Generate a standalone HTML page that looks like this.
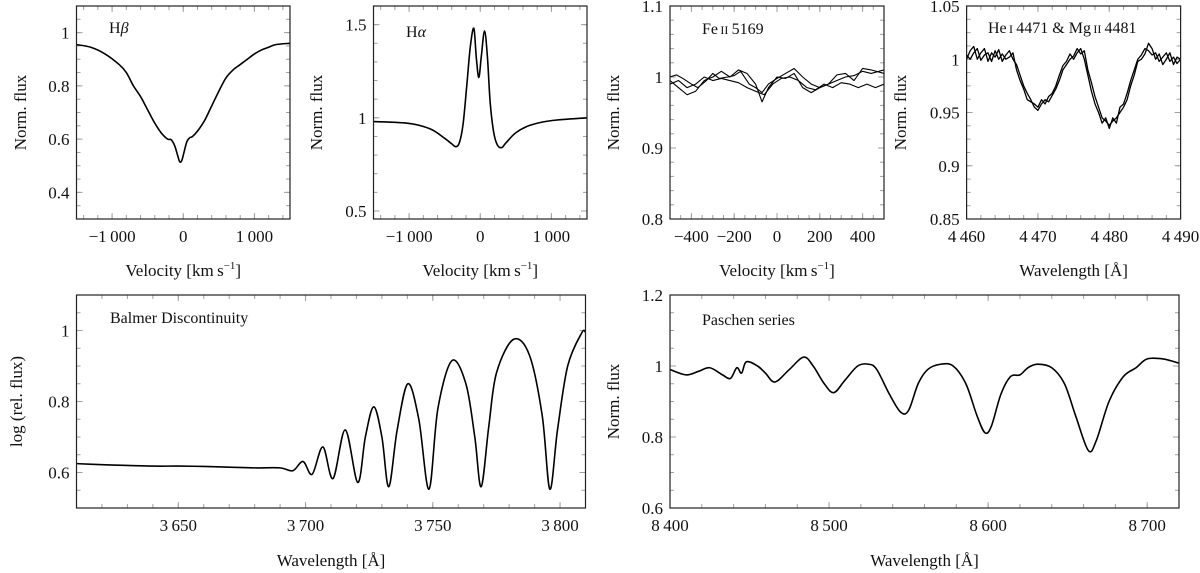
<!DOCTYPE html>
<html><head><meta charset="utf-8"><style>
html,body{margin:0;padding:0;background:#fff}
svg{display:block;font-family:"Liberation Serif",serif}
</style></head><body>
<svg id="fig" width="1200" height="573" viewBox="0 0 1200 573" xmlns="http://www.w3.org/2000/svg"></svg>
<script>
// ---- data ----
const hbetaVel=[-1500,-1300,-1100,-900,-800,-700,-600,-500,-400,-300,-220,-170,-120,-80,-50,-20,10,50,90,130,200,300,400,500,600,700,800,900,1000,1100,1200,1300,1500];
const hbetaFlux=[0.955,0.945,0.92,0.88,0.85,0.80,0.76,0.71,0.66,0.62,0.60,0.598,0.575,0.54,0.515,0.52,0.55,0.59,0.605,0.61,0.63,0.67,0.725,0.78,0.83,0.86,0.88,0.90,0.92,0.935,0.945,0.955,0.96];
const halphaVel=[-1500,-1000,-700,-500,-400,-340,-290,-240,-190,-140,-90,-55,-20,15,60,100,140,190,240,300,360,500,700,1000,1500];
const halphaFlux=[0.98,0.97,0.94,0.89,0.86,0.845,0.87,0.97,1.17,1.38,1.48,1.32,1.217,1.33,1.466,1.33,1.08,0.92,0.855,0.84,0.865,0.92,0.96,0.985,1.0];
const feVel1=[-500,-470,-440,-400,-370,-330,-300,-270,-230,-200,-170,-130,-100,-70,-40,0,40,80,120,160,200,240,280,320,360,400,440,500];
const feFlux1=[1.0,1.003,0.998,0.99,0.985,0.995,1.005,0.998,1.0,1.002,1.008,0.99,0.985,0.978,0.99,0.998,1.005,1.012,1.0,0.99,0.985,0.99,0.995,1.0,1.002,1.008,1.005,1.01];
const feVel2=[-500,-460,-420,-380,-340,-300,-260,-220,-180,-140,-100,-70,-40,0,40,80,120,160,200,240,280,320,360,400,440,500];
const feFlux2=[0.995,0.985,0.975,0.98,0.995,1.0,1.008,1.0,1.01,1.005,0.99,0.965,0.985,1.0,0.998,1.005,0.985,0.978,0.985,0.99,1.003,1.005,0.995,1.012,1.01,1.005];
const feVel3=[-500,-460,-420,-380,-340,-300,-260,-220,-180,-140,-100,-60,-20,20,60,100,140,180,220,260,300,340,380,420,460,500];
const feFlux3=[0.99,0.995,0.985,0.99,1.0,0.995,0.998,0.995,0.992,0.985,0.98,0.975,0.99,0.998,1.0,0.995,0.985,0.982,0.99,0.985,0.992,0.99,0.985,0.99,0.985,0.99];
const heWave=[4460,4460.5,4461,4461.5,4462,4462.5,4463,4463.5,4464,4464.5,4465,4465.5,4466,4466.5,4467,4467.5,4468,4468.5,4469,4469.5,4470,4470.5,4471,4471.5,4472,4472.5,4473,4473.5,4474,4474.5,4475,4475.5,4476,4476.5,4477,4477.5,4478,4478.5,4479,4479.5,4480,4480.5,4481,4481.5,4482,4482.5,4483,4483.5,4484,4484.5,4485,4485.5,4486,4486.5,4487,4487.5,4488,4488.5,4489,4489.5,4490];
const heFlux1=[1.0,1.008,1.012,1.0,1.006,1.01,0.998,1.006,1.002,1.009,0.998,1.004,1.008,1.0,0.995,0.985,0.975,0.968,0.962,0.955,0.952,0.958,0.962,0.96,0.966,0.972,0.98,0.99,0.995,1.0,1.003,1.01,1.005,1.008,0.99,0.978,0.965,0.955,0.945,0.942,0.938,0.942,0.945,0.95,0.955,0.962,0.975,0.985,0.998,1.0,1.005,1.015,1.01,1.0,1.005,0.995,1.0,1.006,0.995,1.002,1.0];
const heFlux2=[1.004,1.0,1.006,1.01,0.999,1.004,1.006,0.998,1.008,1.0,1.005,1.0,1.002,1.006,0.99,0.98,0.972,0.962,0.96,0.958,0.955,0.962,0.958,0.965,0.968,0.975,0.985,0.994,0.998,1.005,1.0,1.006,1.01,1.0,0.985,0.97,0.958,0.95,0.94,0.945,0.935,0.945,0.94,0.955,0.958,0.968,0.98,0.99,1.0,1.004,1.01,1.008,1.004,1.006,0.998,1.002,1.006,0.998,1.002,0.996,1.0];
const balmerWave=[3610,3620,3630,3640,3650,3660,3670,3680,3690,3695,3699,3702.6,3706.8,3710.8,3715.6,3720.5,3723.5,3726.8,3730,3732.7,3736,3740.2,3744.5,3748.5,3752,3757.5,3763,3766.5,3769,3772,3775,3781.7,3788,3793,3796,3799,3803,3808.5,3810];
const balmerFlux=[0.625,0.622,0.62,0.618,0.618,0.617,0.615,0.613,0.613,0.605,0.631,0.595,0.672,0.583,0.72,0.572,0.70,0.785,0.70,0.56,0.72,0.85,0.75,0.553,0.78,0.915,0.85,0.70,0.56,0.73,0.88,0.975,0.93,0.76,0.553,0.72,0.90,0.993,0.995];
const paschenWave=[8400,8410,8418,8425,8433,8438,8442,8445,8448,8455,8460,8466,8475,8484,8490,8497,8503,8510,8518,8525,8530,8538,8545,8550,8556,8562,8570,8578,8586,8593,8598,8602,8608,8614,8620,8625,8631,8640,8648,8655,8663,8668,8676,8685,8693,8700,8710,8720];
const paschenFlux=[0.99,0.975,0.985,0.995,0.975,0.965,0.995,0.98,1.012,1.0,0.98,0.955,0.99,1.025,1.0,0.95,0.925,0.96,1.0,1.005,0.99,0.92,0.87,0.875,0.95,0.99,1.005,1.0,0.95,0.86,0.812,0.83,0.92,0.97,0.975,0.995,1.005,0.995,0.95,0.86,0.762,0.79,0.9,0.97,0.995,1.02,1.02,1.008];
// tick labels
const hbXTicks=[-1000,0,1000], hbYTicks=[0.4,0.6,0.8,1];
const haXTicks=[-1000,0,1000], haYTicks=[0.5,1,1.5];
const feXTicks=[-400,-200,0,200,400], feYTicks=[0.8,0.9,1,1.1];
const heXTicks=[4460,4470,4480,4490], heYTicks=[0.85,0.9,0.95,1,1.05];
const baXTicks=[3650,3700,3750,3800], baYTicks=[0.6,0.8,1];
const paXTicks=[8400,8500,8600,8700], paYTicks=[0.6,0.8,1,1.2];

const NS="http://www.w3.org/2000/svg";
const svg=document.getElementById('fig');
function mk(tag,attrs,parent){const e=document.createElementNS(NS,tag);for(const k in attrs)e.setAttribute(k,attrs[k]);(parent||svg).appendChild(e);return e;}
function fmt(v){let s=Math.abs(v)>=1000?String(Math.abs(v)).replace(/(\d)(\d{3})$/,'$1\u2009$2'):String(Math.abs(v));return (v<0?'\u2212':'')+s;}

function panel(o){
  const g=mk('g',{});
  
  
  const sx=v=>o.L+(v-o.x0)/(o.x1-o.x0)*(o.R-o.L);
  const sy=v=>o.B-(v-o.y0)/(o.y1-o.y0)*(o.B-o.T);
  // minor ticks
  const tk=mk('g',{stroke:'#a0a0a0','stroke-width':1},g);
  
  
  for(let v=o.xm0;v<=o.x1+1e-9;v+=o.xms){const x=sx(v);if(x<o.L+1||x>o.R-1)continue;
    mk('line',{x1:x,x2:x,y1:o.B,y2:o.B-4},tk);mk('line',{x1:x,x2:x,y1:o.T,y2:o.T+4},tk);}
  for(let v=o.ym0;v<=o.y1+1e-9;v+=o.yms){const y=sy(v);if(y<o.T+1||y>o.B-1)continue;
    mk('line',{x1:o.L,x2:o.L+4,y1:y,y2:y},tk);mk('line',{x1:o.R,x2:o.R-4,y1:y,y2:y},tk);}
  o.xt.forEach(v=>{const x=sx(v);mk('line',{x1:x,x2:x,y1:o.B,y2:o.B-6},tk);mk('line',{x1:x,x2:x,y1:o.T,y2:o.T+6},tk);
    const t=mk('text',{x:x,y:o.B+23,'text-anchor':'middle','font-size':17,fill:'#111'},g);t.textContent=fmt(v);
    });
  o.yt.forEach(v=>{const y=sy(v);mk('line',{x1:o.L,x2:o.L+6,y1:y,y2:y},tk);mk('line',{x1:o.R,x2:o.R-6,y1:y,y2:y},tk);
    const t=mk('text',{x:o.L-7,y:y+6,'text-anchor':'end','font-size':17,fill:'#111'},g);t.textContent=String(v);
    });
  // clip
  const cid='c'+o.name;const cp=mk('clipPath',{id:cid},g);mk('rect',{x:o.L,y:o.T,width:o.R-o.L,height:o.B-o.T},cp);
  o.series.forEach((s,i)=>{
    const P=s.x.map((v,j)=>[sx(v),sy(s.y[j])]);
    let d='M'+P[0][0].toFixed(2)+','+P[0][1].toFixed(2);
    if(o.smooth){for(let j=0;j<P.length-1;j++){const p0=P[Math.max(0,j-1)],p1=P[j],p2=P[j+1],p3=P[Math.min(P.length-1,j+2)];
      const c1=[p1[0]+(p2[0]-p0[0])/6,p1[1]+(p2[1]-p0[1])/6],c2=[p2[0]-(p3[0]-p1[0])/6,p2[1]-(p3[1]-p1[1])/6];
      d+=' C'+c1[0].toFixed(2)+','+c1[1].toFixed(2)+' '+c2[0].toFixed(2)+','+c2[1].toFixed(2)+' '+p2[0].toFixed(2)+','+p2[1].toFixed(2);}}
    else P.slice(1).forEach(p=>d+=' L'+p[0].toFixed(2)+','+p[1].toFixed(2));
    const pa=mk('path',{d:d,fill:'none',stroke:'#000','stroke-width':o.sw||1.6,'stroke-linejoin':'round','clip-path':'url(#'+cid+')'},g);
    
    
  });
  const fr=mk('rect',{x:o.L,y:o.T,width:o.R-o.L,height:o.B-o.T,fill:'none',stroke:'#222','stroke-width':1.2},g);
  
  const xl=mk('text',{x:(o.L+o.R)/2,y:o.xly,'text-anchor':'middle','font-size':17,fill:'#111'},g);xl.innerHTML=o.xlab;
  
  const yl=mk('text',{x:0,y:0,'text-anchor':'middle','font-size':17,fill:'#111',transform:'translate('+o.ylx+','+(o.T+o.B)/2+') rotate(-90)'},g);yl.textContent=o.ylab;
  
  const tt=mk('text',{x:o.tx,y:o.ty,'font-size':16,fill:'#111'},g);tt.innerHTML=o.title;
  
}
const VEL='Velocity [km\u2009s<tspan font-size="11" dy="-7">\u22121</tspan><tspan dy="7">]</tspan>';
const WL='Wavelength [Å]';
panel({name:'hbeta-panel',L:76.5,R:290,T:6,B:219,x0:-1500,x1:1500,y0:0.3,y1:1.1,xt:hbXTicks,yt:hbYTicks,xm0:-1400,xms:200,ym0:0.3,yms:0.05,
  series:[{x:hbetaVel,y:hbetaFlux}],smooth:true,xlab:VEL,xly:276,ylab:'Norm. flux',ylx:26,title:'H<tspan font-style="italic">β</tspan>',tx:109,ty:33});
panel({name:'halpha-panel',L:373.5,R:587,T:6,B:219,x0:-1500,x1:1500,y0:0.457,y1:1.6,xt:haXTicks,yt:haYTicks,xm0:-1400,xms:200,ym0:0.5,yms:0.1,
  series:[{x:halphaVel,y:halphaFlux}],smooth:true,xlab:VEL,xly:276,ylab:'Norm. flux',ylx:322,title:'H<tspan font-style="italic">α</tspan>',tx:406,ty:37});
panel({name:'feii-panel',L:670,R:884,T:6,B:219,x0:-500,x1:500,y0:0.8,y1:1.1,xt:feXTicks,yt:feYTicks,xm0:-450,xms:50,ym0:0.8,yms:0.02,
  series:[{x:feVel1,y:feFlux1},{x:feVel2,y:feFlux2},{x:feVel3,y:feFlux3}],sw:1.1,xlab:VEL,xly:276,ylab:'Norm. flux',ylx:619,title:'Fe<tspan font-size="12">\u2009II</tspan>\u20095169',tx:702,ty:34});
panel({name:'hemg-panel',L:966.6,R:1180.6,T:6,B:219,x0:4460,x1:4490,y0:0.85,y1:1.05,xt:heXTicks,yt:heYTicks,xm0:4462,xms:2,ym0:0.85,yms:0.0125,
  series:[{x:heWave,y:heFlux1},{x:heWave,y:heFlux2}],sw:1.3,xlab:WL,xly:276,ylab:'Norm. flux',ylx:906,title:'He<tspan font-size="12">\u2009I</tspan>\u20094471 &amp; Mg<tspan font-size="12">\u2009II</tspan>\u20094481',tx:988,ty:33});
panel({name:'balmer-panel',L:76.5,R:585.5,T:295,B:508,x0:3610,x1:3810,y0:0.5,y1:1.1,xt:baXTicks,yt:baYTicks,xm0:3620,xms:10,ym0:0.5,yms:0.05,
  series:[{x:balmerWave,y:balmerFlux}],smooth:true,xlab:WL,xly:566,ylab:'log (rel. flux)',ylx:22,title:'Balmer Discontinuity',tx:110,ty:323});
panel({name:'paschen-panel',L:670,R:1179,T:295,B:508,x0:8400,x1:8720,y0:0.6,y1:1.2,xt:paXTicks,yt:paYTicks,xm0:8420,xms:20,ym0:0.6,yms:0.05,
  series:[{x:paschenWave,y:paschenFlux}],smooth:true,xlab:WL,xly:566,ylab:'Norm. flux',ylx:619,title:'Paschen series',tx:702,ty:325});
</script>
</body></html>
